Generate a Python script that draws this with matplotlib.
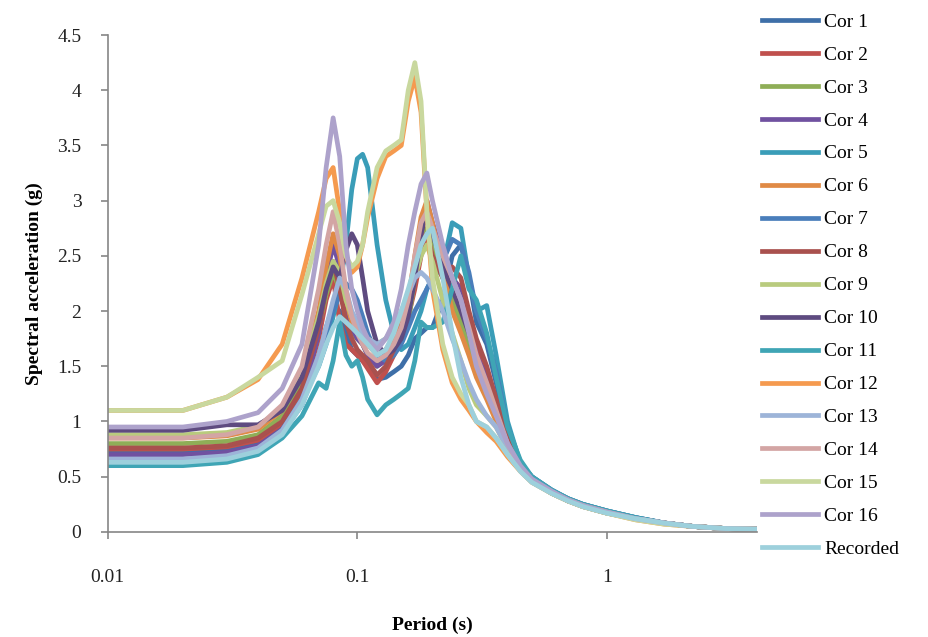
import matplotlib.pyplot as plt
from matplotlib.ticker import FixedLocator, FixedFormatter, NullLocator

plt.rcParams['font.family'] = ['Liberation Serif', 'DejaVu Serif']

# periodos (s)
T = [0.01, 0.02, 0.03, 0.04, 0.05, 0.06, 0.07, 0.075, 0.08, 0.085, 0.09, 0.095,
     0.1, 0.105, 0.11, 0.12, 0.13, 0.14, 0.15, 0.16, 0.17, 0.18, 0.19, 0.2,
     0.22, 0.24, 0.26, 0.28, 0.3, 0.33, 0.36, 0.4, 0.45, 0.5, 0.6, 0.7, 0.8,
     1.0, 1.3, 1.7, 2.2, 3.0, 4.0]

cor1 = [0.72, 0.72, 0.74, 0.80, 0.95, 1.20, 1.60, 1.85, 2.05, 2.00, 1.80, 1.65,
        1.60, 1.55, 1.50, 1.38, 1.40, 1.45, 1.50, 1.60, 1.75, 1.80, 1.85, 1.85,
        2.10, 2.50, 2.60, 2.30, 1.90, 1.70, 1.35, 0.90, 0.62, 0.50, 0.37, 0.30, 0.25,
        0.19, 0.13, 0.08, 0.05, 0.03, 0.025]
cor2 = [0.75, 0.75, 0.77, 0.83, 0.98, 1.25, 1.75, 2.10, 2.30, 1.90, 1.70, 1.65,
        1.60, 1.55, 1.48, 1.35, 1.45, 1.60, 1.75, 1.95, 2.20, 2.50, 2.70, 2.60,
        2.35, 2.30, 2.20, 1.90, 1.70, 1.45, 1.20, 0.85, 0.60, 0.48, 0.36, 0.29, 0.24,
        0.18, 0.12, 0.08, 0.05, 0.03, 0.025]
cor3 = [0.80, 0.80, 0.82, 0.88, 1.05, 1.35, 1.85, 2.15, 2.35, 2.20, 1.95, 1.80,
        1.75, 1.70, 1.60, 1.50, 1.60, 1.70, 1.80, 1.90, 2.30, 2.60, 2.75, 2.60,
        2.30, 2.10, 1.90, 1.70, 1.50, 1.30, 1.10, 0.80, 0.58, 0.47, 0.35, 0.28, 0.23,
        0.17, 0.12, 0.08, 0.05, 0.03, 0.025]
cor4 = [0.70, 0.70, 0.72, 0.78, 0.93, 1.20, 1.80, 2.30, 2.60, 2.40, 2.00, 1.85,
        1.75, 1.70, 1.60, 1.50, 1.55, 1.65, 1.80, 2.00, 2.30, 2.70, 3.00, 2.80,
        2.50, 2.30, 2.20, 1.90, 1.60, 1.40, 1.15, 0.80, 0.58, 0.47, 0.36, 0.28, 0.24,
        0.18, 0.12, 0.08, 0.05, 0.03, 0.025]
cor5 = [0.62, 0.62, 0.66, 0.75, 0.92, 1.20, 1.50, 1.70, 1.95, 2.20, 2.60, 3.10,
        3.38, 3.42, 3.30, 2.60, 2.10, 1.80, 1.65, 1.70, 1.85, 2.00, 2.20, 2.30,
        2.40, 2.80, 2.75, 2.30, 2.00, 2.05, 1.60, 1.00, 0.62, 0.50, 0.38, 0.30, 0.25,
        0.19, 0.13, 0.08, 0.05, 0.03, 0.025]
cor6 = [0.85, 0.85, 0.87, 0.93, 1.10, 1.45, 2.00, 2.40, 2.70, 2.50, 2.10, 1.90,
        1.80, 1.75, 1.70, 1.60, 1.65, 1.75, 1.90, 2.10, 2.50, 2.85, 3.00, 2.80,
        2.40, 2.00, 1.80, 1.60, 1.40, 1.20, 1.00, 0.75, 0.56, 0.46, 0.35, 0.28, 0.23,
        0.17, 0.12, 0.08, 0.05, 0.03, 0.025]
cor7 = [0.65, 0.65, 0.68, 0.74, 0.90, 1.15, 1.55, 1.80, 2.00, 2.15, 2.25, 2.20,
        2.10, 1.95, 1.80, 1.60, 1.55, 1.60, 1.70, 1.85, 2.00, 2.10, 2.20, 2.30,
        2.45, 2.65, 2.60, 2.35, 2.00, 1.75, 1.45, 0.95, 0.63, 0.50, 0.38, 0.30, 0.25,
        0.19, 0.13, 0.08, 0.05, 0.03, 0.025]
cor8 = [0.76, 0.76, 0.78, 0.85, 1.00, 1.30, 1.85, 2.20, 2.45, 2.20, 1.90, 1.75,
        1.65, 1.60, 1.55, 1.42, 1.50, 1.65, 1.85, 2.10, 2.40, 2.65, 2.70, 2.50,
        2.30, 2.40, 2.30, 2.00, 1.75, 1.50, 1.20, 0.85, 0.60, 0.48, 0.36, 0.29, 0.24,
        0.18, 0.12, 0.08, 0.05, 0.03, 0.025]
cor9 = [0.88, 0.88, 0.90, 0.96, 1.12, 1.45, 1.95, 2.25, 2.45, 2.35, 2.10, 1.95,
        1.85, 1.80, 1.75, 1.70, 1.75, 1.85, 1.95, 2.10, 2.30, 2.50, 2.60, 2.45,
        2.10, 1.80, 1.55, 1.30, 1.15, 1.05, 0.95, 0.75, 0.56, 0.46, 0.35, 0.28, 0.23,
        0.17, 0.12, 0.08, 0.05, 0.03, 0.025]
cor10 = [0.92, 0.92, 0.97, 0.97, 1.10, 1.40, 1.90, 2.20, 2.40, 2.30, 2.55, 2.70,
         2.60, 2.30, 2.00, 1.70, 1.60, 1.65, 1.75, 1.95, 2.30, 2.70, 2.90, 2.70,
         2.40, 2.20, 2.00, 1.80, 1.55, 1.30, 1.10, 0.80, 0.58, 0.47, 0.36, 0.29, 0.24,
         0.18, 0.12, 0.08, 0.05, 0.03, 0.025]
cor11 = [0.60, 0.60, 0.63, 0.70, 0.85, 1.05, 1.35, 1.30, 1.55, 1.90, 1.60, 1.50,
         1.55, 1.40, 1.20, 1.06, 1.15, 1.20, 1.25, 1.30, 1.55, 1.90, 1.85, 1.85,
         1.90, 2.20, 2.50, 2.20, 2.10, 1.80, 1.40, 0.95, 0.65, 0.50, 0.38, 0.30, 0.25,
         0.19, 0.13, 0.08, 0.05, 0.03, 0.025]
cor12 = [1.10, 1.10, 1.22, 1.38, 1.70, 2.30, 2.90, 3.20, 3.30, 2.90, 2.50, 2.35,
         2.40, 2.60, 2.85, 3.20, 3.40, 3.45, 3.50, 3.90, 4.12, 3.80, 2.90, 2.20,
         1.65, 1.35, 1.20, 1.10, 1.00, 0.90, 0.82, 0.68, 0.55, 0.45, 0.35, 0.28, 0.23,
         0.17, 0.11, 0.07, 0.05, 0.03, 0.025]
cor13 = [0.66, 0.66, 0.69, 0.76, 0.92, 1.20, 1.60, 1.85, 2.10, 2.30, 2.20, 2.00,
         1.90, 1.80, 1.75, 1.70, 1.75, 1.85, 2.00, 2.15, 2.30, 2.35, 2.30, 2.20,
         2.00, 1.75, 1.55, 1.35, 1.20, 1.05, 0.95, 0.75, 0.55, 0.45, 0.35, 0.28, 0.23,
         0.17, 0.12, 0.08, 0.05, 0.03, 0.025]
cor14 = [0.85, 0.85, 0.88, 0.95, 1.15, 1.50, 2.20, 2.60, 2.90, 2.60, 2.20, 1.95,
         1.80, 1.70, 1.62, 1.55, 1.60, 1.70, 1.85, 2.10, 2.50, 2.80, 2.90, 2.75,
         2.50, 2.30, 2.10, 1.85, 1.60, 1.35, 1.10, 0.80, 0.58, 0.47, 0.36, 0.29, 0.24,
         0.18, 0.12, 0.08, 0.05, 0.03, 0.025]
cor15 = [1.10, 1.10, 1.22, 1.40, 1.55, 2.15, 2.70, 2.95, 3.00, 2.80, 2.50, 2.40,
         2.45, 2.60, 2.90, 3.30, 3.45, 3.50, 3.55, 4.00, 4.25, 3.90, 2.90, 2.30,
         1.70, 1.40, 1.25, 1.15, 1.00, 0.95, 0.85, 0.70, 0.55, 0.45, 0.35, 0.28, 0.23,
         0.17, 0.11, 0.07, 0.05, 0.03, 0.025]
cor16 = [0.95, 0.95, 1.00, 1.08, 1.30, 1.70, 2.60, 3.30, 3.75, 3.40, 2.60, 2.20,
         2.00, 1.85, 1.75, 1.65, 1.75, 1.90, 2.20, 2.60, 2.90, 3.15, 3.25, 3.00,
         2.60, 2.30, 2.10, 1.80, 1.50, 1.25, 1.05, 0.80, 0.60, 0.48, 0.37, 0.29, 0.24,
         0.18, 0.12, 0.08, 0.05, 0.03, 0.025]
recorded = [0.63, 0.63, 0.66, 0.73, 0.88, 1.15, 1.50, 1.70, 1.85, 1.95, 1.90, 1.85,
            1.80, 1.75, 1.70, 1.60, 1.65, 1.80, 2.00, 2.20, 2.40, 2.60, 2.70, 2.75,
            2.30, 1.80, 1.40, 1.15, 1.00, 0.95, 0.85, 0.70, 0.55, 0.45, 0.35, 0.28, 0.23,
            0.17, 0.12, 0.08, 0.05, 0.03, 0.025]

series = [cor1, cor2, cor3, cor4, cor5, cor6, cor7, cor8, cor9, cor10,
          cor11, cor12, cor13, cor14, cor15, cor16, recorded]
labels = ['Cor 1', 'Cor 2', 'Cor 3', 'Cor 4', 'Cor 5', 'Cor 6', 'Cor 7', 'Cor 8',
          'Cor 9', 'Cor 10', 'Cor 11', 'Cor 12', 'Cor 13', 'Cor 14', 'Cor 15',
          'Cor 16', 'Recorded']
colores = ['#3E6FA8', '#C0504D', '#8FAE57', '#7051A0', '#3A9DB8', '#E08A45',
           '#4A7EBB', '#A9514E', '#B9CB7E', '#5E4B80', '#3FA5B5', '#F59A4F',
           '#9DB4D8', '#D3A5A4', '#C9D89E', '#ADA2CB', '#9DD0DC']

fig = plt.figure(figsize=(9.29, 6.37), dpi=100)
ax = fig.add_axes([0.116, 0.165, 0.699, 0.78])

for y, lab, c in zip(series, labels, colores):
    ax.plot(T, y, color=c, lw=3.4, label=lab, solid_joinstyle='round')

ax.set_xscale('log')
ax.set_xlim(0.01, 4)
ax.set_ylim(0, 4.5)

yt = [0, 0.5, 1, 1.5, 2, 2.5, 3, 3.5, 4, 4.5]
ax.yaxis.set_major_locator(FixedLocator(yt))
ax.yaxis.set_major_formatter(FixedFormatter(['0', '0.5', '1', '1.5', '2', '2.5',
                                             '3', '3.5', '4', '4.5']))
ax.xaxis.set_major_locator(FixedLocator([0.01, 0.1, 1]))
ax.xaxis.set_major_formatter(FixedFormatter(['0.01', '0.1', '1']))
ax.xaxis.set_minor_locator(NullLocator())

for s in ['top', 'right']:
    ax.spines[s].set_visible(False)
for s in ['left', 'bottom']:
    ax.spines[s].set_color('#868686')
    ax.spines[s].set_linewidth(1.2)
ax.tick_params(axis='both', colors='#868686', labelcolor='#222222',
               labelsize=14, length=5, width=1.2)
ax.tick_params(axis='x', pad=22)
ax.tick_params(axis='y', pad=14)

ax.set_xlabel('Period (s)', fontsize=14, fontweight='bold', labelpad=22)
ax.set_ylabel('Spectral acceleration (g)', fontsize=14, fontweight='bold', labelpad=10)

fig.legend(loc='upper left', bbox_to_anchor=(762 / 929, 1 - 13 / 637),
           frameon=False, fontsize=14, handlelength=2.9, handletextpad=0.3,
           labelspacing=0.79, borderpad=0, borderaxespad=0)

plt.savefig('out.png', dpi=100)
